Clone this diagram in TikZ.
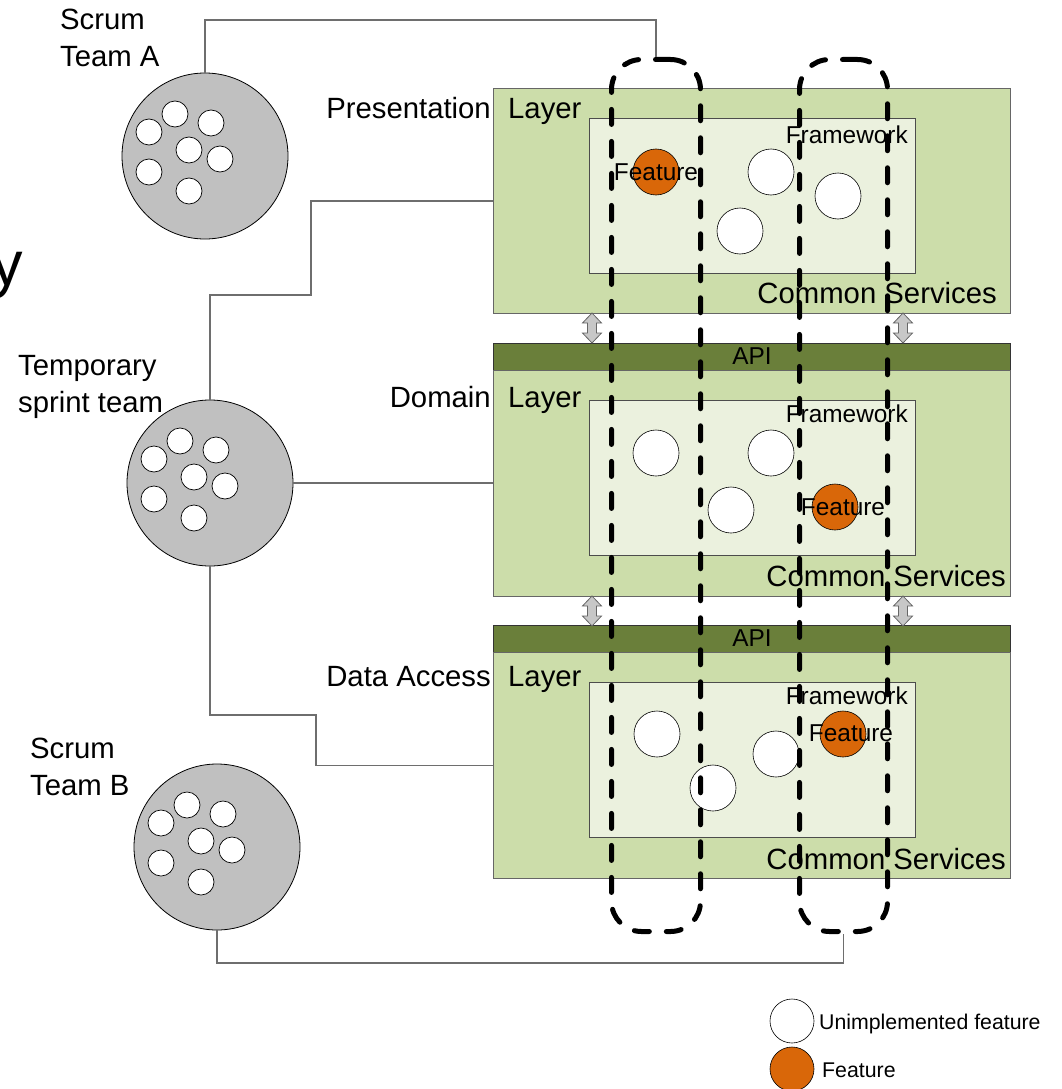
\documentclass[tikz,border=0pt]{standalone}
\usepackage{fontspec}
\setmainfont{Liberation Sans}
\definecolor{layerfill}{RGB}{204,221,170}
\definecolor{innerfill}{RGB}{235,241,222}
\definecolor{apifill}{RGB}{106,127,58}
\definecolor{featfill}{RGB}{217,103,9}
\definecolor{teamfill}{RGB}{192,192,192}
\definecolor{linegray}{RGB}{110,110,110}
\newcommand\lgfont{\fontsize{29.3}{34}\selectfont}
\newcommand\smfont{\fontsize{24.4}{28}\selectfont}
\newcommand\lgdfont{\fontsize{21.3}{25}\selectfont}
\begin{document}
\begin{tikzpicture}[x=1pt,y=-1pt,
  layer/.style={draw=gray!80!black, fill=layerfill, line width=0.8pt, minimum width=517pt, inner sep=0pt, anchor=north west},
  api/.style={draw=black!80, fill=apifill, line width=0.8pt, minimum width=517pt, minimum height=27pt, inner sep=0pt, anchor=north west},
  frame/.style={draw=black!70, fill=innerfill, line width=0.7pt, minimum width=326pt, minimum height=155pt, inner sep=0pt, anchor=north west},
  unimpl/.style={circle, draw=black, fill=white, minimum size=46pt, inner sep=0pt, line width=0.6pt},
  feat/.style={circle, draw=black, fill=featfill, minimum size=46pt, inner sep=0pt, line width=0.6pt},
  team/.style={circle, draw=black, fill=teamfill, minimum size=166pt, inner sep=0pt, line width=0.8pt},
  member/.style={circle, draw=black, fill=white, minimum size=26pt, inner sep=0pt, line width=0.7pt},
  col/.style={draw=black, line width=5pt, dash pattern=on 15pt off 17pt, line cap=round, rounded corners=30pt, minimum height=872pt, inner sep=0pt, anchor=north west},
  conn/.style={draw=linegray, line width=1.3pt},
  lbl/.style={inner sep=0pt, font=\lgfont},
  sml/.style={inner sep=0pt, font=\smfont},
  dbl/.style={fill=black!22, draw=black!60, line width=0.8pt}
]
\useasboundingbox (0,0) rectangle (1061,1089);

% big cut-off letter
\node[inner sep=0pt, font=\fontsize{63}{70}\selectfont, anchor=base west] (bigy) at (-9,285) {y};

% layers
\node[layer, minimum height=225pt] (presL) at (493,88) {};
\node[api] (api1) at (493,343) {};
\node[layer, minimum height=226pt] (domL) at (493,370) {};
\node[api] (api2) at (493,625) {};
\node[layer, minimum height=226pt] (dataL) at (493,652) {};

\node[sml, anchor=base] (api1t) at (752,364.5) {API};
\node[sml, anchor=base] (api2t) at (752,646.5) {API};

% inner framework boxes
\node[frame] (presF) at (589,118) {};
\node[frame] (domF) at (589,400) {};
\node[frame] (dataF) at (589,682) {};

% layer labels
\node[lbl, anchor=base east] (presT1) at (491,118) {Presentation};
\node[lbl, anchor=base west] (presT2) at (508,118) {Layer};
\node[lbl, anchor=base east] (domT1) at (491,407) {Domain};
\node[lbl, anchor=base west] (domT2) at (508,407) {Layer};
\node[lbl, anchor=base east] (dataT1) at (491,686) {Data Access};
\node[lbl, anchor=base west] (dataT2) at (508,686) {Layer};

\node[lbl, anchor=base east] (presC) at (997,303) {Common Services};
\node[lbl, anchor=base east] (domC) at (1006,586) {Common Services};
\node[lbl, anchor=base east] (dataC) at (1006,869) {Common Services};

% features
\node[unimpl] (p1) at (771,172) {};
\node[unimpl] (p2) at (838,196) {};
\node[unimpl] (p3) at (740,231) {};
\node[feat] (pf) at (656,172) {};

\node[unimpl] (d1) at (656,453) {};
\node[unimpl] (d2) at (771,453) {};
\node[unimpl] (d3) at (731,510) {};
\node[feat] (df) at (835,507) {};

\node[unimpl] (a1) at (657,734) {};
\node[unimpl] (a2) at (776,754) {};
\node[unimpl] (a3) at (713,788) {};
\node[feat] (af) at (843,734) {};

\node[sml, anchor=base east] (presW) at (908,143.5) {Framework};
\node[sml, anchor=base east] (domW) at (908,422.5) {Framework};
\node[sml, anchor=base east] (dataW) at (908,704.5) {Framework};

\node[sml, anchor=base] (pft) at (656,180.5) {Feature};
\node[sml, anchor=base] (dft) at (843,515.5) {Feature};
\node[sml, anchor=base] (aft) at (851,741.5) {Feature};

% teams
\node[team] (teamA) at (205,156) {};
\node[team] (teamT) at (210,483) {};
\node[team] (teamB) at (217,847) {};
\foreach \t in {teamA,teamT,teamB}{
  \foreach \dx/\dy [count=\i] in {-30/-42, 6/-33, -56/-24, -16/-6, 15/3, -56/16, -16/35}{
    \node[member] (\t m\i) at ([shift={(\dx,\dy)}]\t.center) {};
  }
}

\node[lbl, anchor=base west] (tA1) at (60,30) {Scrum};
\node[lbl, anchor=base west] (tA2) at (60,67) {Team A};
\node[lbl, anchor=base west] (tT1) at (18,375) {Temporary};
\node[lbl, anchor=base west] (tT2) at (18,412) {sprint team};
\node[lbl, anchor=base west] (tB1) at (30,758) {Scrum};
\node[lbl, anchor=base west] (tB2) at (30,795) {Team B};

% double arrows between layers
\foreach \cx/\ya in {592/313, 903/313, 592/596, 903/596}{
  \filldraw[dbl] (\cx,\ya) -- ++(9.5,10) -- ++(-5,0) -- ++(0,10) -- ++(5,0) -- ++(-9.5,10)
    -- ++(-9.5,-10) -- ++(5,0) -- ++(0,-10) -- ++(-5,0) -- cycle;
}

% dashed columns
\node[col, minimum width=89pt] (colA) at (609,57) {};
\node[col, minimum width=88pt] (colB) at (797,57) {};

% connectors
\coordinate (cA) at (205,20);
\coordinate (cP) at (311,295);
\coordinate (cD) at (316,715);
\coordinate (cB) at (217,963);
\draw[conn] (teamA.north) -- (cA) -| (colA.north);
\draw[conn] (presL.west) -| (cP) -| (teamT.north);
\draw[conn] (teamT.east) -- (teamT.east -| domL.west);
\draw[conn] (teamT.south) |- (cD) |- (dataL.west);
\draw[conn] (teamB.south) -- (cB) -| (colB.south);

% legend
\node[unimpl, minimum size=44pt] (legU) at (792,1021) {};
\node[feat, minimum size=44pt] (legF) at (792,1069) {};
\node[inner sep=0pt, font=\lgdfont, anchor=base west] (legUt) at (819,1029) {Unimplemented feature};
\node[inner sep=0pt, font=\lgdfont, anchor=base west] (legFt) at (822,1077) {Feature};
\end{tikzpicture}
\end{document}
